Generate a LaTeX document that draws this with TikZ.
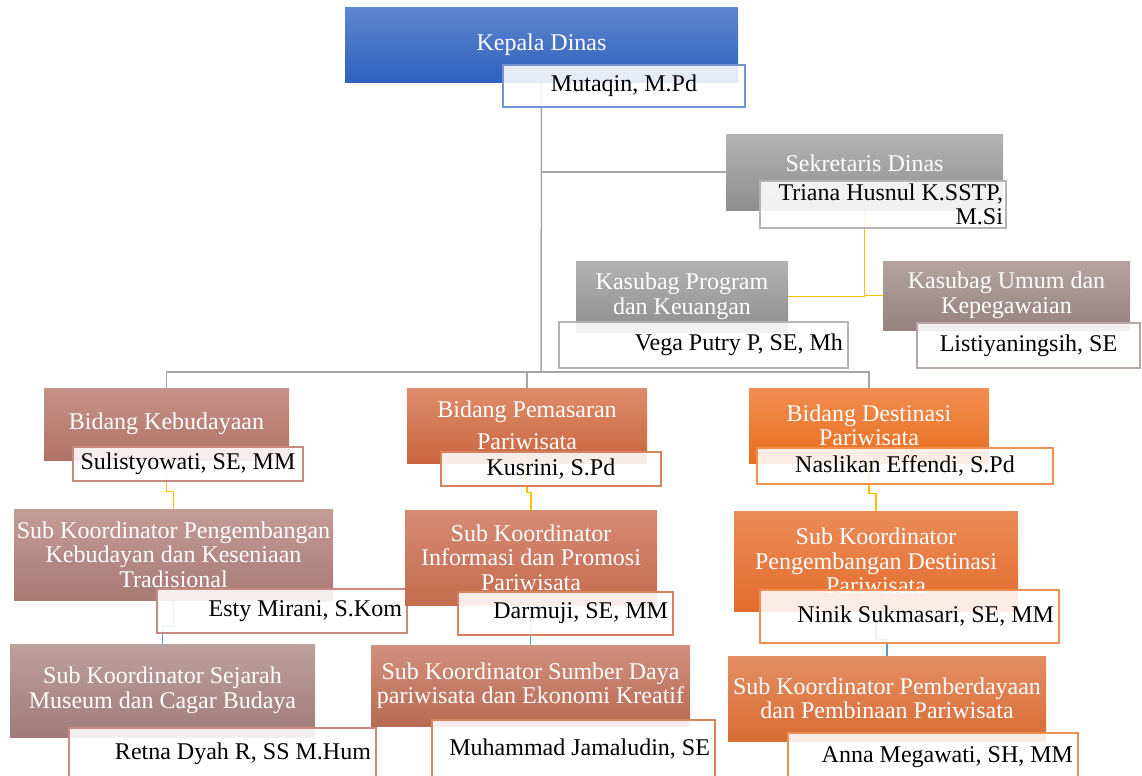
\documentclass[tikz,border=0pt]{standalone}
\usepackage{fontspec}
\setmainfont{Liberation Serif}
\usepackage{tikz}
\usetikzlibrary{backgrounds}
\definecolor{bluT}{HTML}{5F86D0}\definecolor{bluB}{HTML}{2F60BC}\definecolor{bluL}{HTML}{7393D3}
\definecolor{gryT}{HTML}{B3B3B3}\definecolor{gryB}{HTML}{8E8E8E}\definecolor{gryL}{HTML}{B4B4B4}
\definecolor{tauT}{HTML}{B4A3A0}\definecolor{tauB}{HTML}{968280}\definecolor{tauL}{HTML}{B8A8A5}
\definecolor{rosT}{HTML}{C69288}\definecolor{rosB}{HTML}{B07268}\definecolor{rosL}{HTML}{C88A80}
\definecolor{rusT}{HTML}{DE8C6C}\definecolor{rusB}{HTML}{C9663F}\definecolor{rusL}{HTML}{D8825E}
\definecolor{orgT}{HTML}{F28E52}\definecolor{orgB}{HTML}{E86E1E}\definecolor{orgL}{HTML}{F09050}
\definecolor{mauT}{HTML}{C39C96}\definecolor{mauB}{HTML}{A87A74}
\definecolor{sejT}{HTML}{BCA09C}\definecolor{sejB}{HTML}{A07C78}
\definecolor{infT}{HTML}{D58A74}\definecolor{infB}{HTML}{C46C4E}
\definecolor{sumT}{HTML}{D2907E}\definecolor{sumB}{HTML}{B86A52}
\definecolor{dstT}{HTML}{EA8C5A}\definecolor{dstB}{HTML}{E26C2C}
\definecolor{pbdT}{HTML}{E48E64}\definecolor{pbdB}{HTML}{D86C34}
\definecolor{lnGry}{HTML}{A6A6A6}\definecolor{lnYel}{HTML}{FFC000}\definecolor{lnBlu}{HTML}{5B9BD5}

\begin{document}
\begin{tikzpicture}[x=0.5pt,y=-0.5pt,
  box/.style={rectangle,inner sep=1pt,align=center,text=white,
     font=\fontsize{12}{12.25}\selectfont},
  nm/.style={rectangle,draw,line width=0.75pt,fill=white,fill opacity=0.88,
     text opacity=1,draw opacity=1,inner sep=2.5pt,align=center,
     font=\fontsize{12}{12.25}\selectfont},
  nmr/.style={nm,align=flush right},
  gry/.style={draw=lnGry,line width=0.75pt},
  yel/.style={draw=lnYel,line width=0.75pt},
  blu/.style={draw=lnBlu,line width=0.6pt}]
\useasboundingbox (0,0) rectangle (1142,776);
\node[box,top color=bluT,bottom color=bluB,minimum width=196.5pt,minimum height=37.5pt] (kep) at (541.5,44.5) {Kepala Dinas};
\node[nm,draw=bluL,minimum width=121pt,minimum height=21pt] (kepN) at (624,86) {Mutaqin, M.Pd};
\node[box,top color=gryT,bottom color=gryB,minimum width=138.5pt,minimum height=38pt,text depth=9pt] (sek) at (864.5,172) {Sekretaris Dinas};
\node[nmr,draw=gryL,text width=120pt,minimum height=21.5pt,inner sep=1.5pt] (sekN) at (883,204.5) {Triana Husnul K.SSTP,\\M.Si};
\node[box,top color=gryT,bottom color=gryB,minimum width=106pt,minimum height=35.5pt] (kp) at (682,296.5) {Kasubag Program\\dan Keuangan};
\node[nmr,draw=gryL,text width=139.5pt,minimum height=23pt] (kpN) at (703.5,345) {Vega Putry P, SE, Mh};
\node[box,top color=tauT,bottom color=tauB,minimum width=123.5pt,minimum height=34.5pt] (ku) at (1006.5,295.5) {Kasubag Umum dan\\Kepegawaian};
\node[nm,draw=tauL,minimum width=111.5pt,minimum height=22.5pt] (kuN) at (1028.5,345.5) {Listiyaningsih, SE};
\node[box,top color=rosT,bottom color=rosB,minimum width=122.5pt,minimum height=36pt] (keb) at (166.5,424) {Bidang Kebudayaan};
\node[nm,draw=rosL,minimum width=115pt,minimum height=17pt,inner sep=1pt] (kebN) at (188,464) {Sulistyowati, SE, MM};
\node[box,top color=rusT,bottom color=rusB,minimum width=120pt,minimum height=37.5pt] (pem) at (527,425.5) {Bidang Pemasaran\\[3.5pt]Pariwisata};
\node[nm,draw=rusL,minimum width=110pt,minimum height=17pt,inner sep=1pt] (pemN) at (551,469) {Kusrini, S.Pd};
\node[box,top color=orgT,bottom color=orgB,minimum width=120pt,minimum height=37.5pt] (des) at (869,425.5) {Bidang Destinasi\\Pariwisata};
\node[nm,draw=orgL,minimum width=148pt,minimum height=18pt,inner sep=1pt] (desN) at (905,466) {Naslikan Effendi, S.Pd};
\node[box,top color=mauT,bottom color=mauB,minimum width=159.5pt,minimum height=45.5pt] (skeb) at (173.5,554.5) {Sub Koordinator Pengembangan\\Kebudayan dan Keseniaan\\Tradisional};
\node[nmr,draw=rosL,text width=120pt,minimum height=22pt] (skebN) at (282,611) {Esty Mirani, S.Kom};
\node[box,top color=infT,bottom color=infB,minimum width=126pt,minimum height=47.5pt] (sinf) at (531,557.5) {Sub Koordinator\\Informasi dan Promosi\\Pariwisata};
\node[nmr,draw=rusL,text width=102.5pt,minimum height=21.5pt] (sinfN) at (565.5,613.5) {Darmuji, SE, MM};
\node[box,top color=dstT,bottom color=dstB,minimum width=142pt,minimum height=50pt] (sdes) at (876,561) {Sub Koordinator\\Pengembangan Destinasi\\Pariwisata};
\node[nmr,draw=orgL,text width=144.5pt,minimum height=26.5pt] (sdesN) at (909.5,616.5) {Ninik Sukmasari, SE, MM};
\node[box,top color=sejT,bottom color=sejB,minimum width=152.5pt,minimum height=46.5pt] (ssej) at (162.5,690.5) {Sub Koordinator Sejarah\\Museum dan Cagar Budaya};
\node[nmr,draw=rosL,text width=148.5pt,minimum height=26pt] (ssejN) at (222.5,754) {Retna Dyah R, SS M.Hum};
\node[box,top color=sumT,bottom color=sumB,minimum width=159.5pt,minimum height=40.5pt] (ssum) at (530.5,685.5) {Sub Koordinator Sumber Daya\\pariwisata dan Ekonomi Kreatif};
\node[nmr,draw=rusL,text width=136.5pt,minimum height=29pt] (ssumN) at (573.5,749) {Muhammad Jamaludin, SE};
\node[box,top color=pbdT,bottom color=pbdB,minimum width=159pt,minimum height=42.5pt] (spem) at (887,698.5) {Sub Koordinator Pemberdayaan\\dan Pembinaan Pariwisata};
\node[nmr,draw=orgL,text width=140pt,minimum height=24pt] (spemN) at (933,757) {Anna Megawati, SH, MM};
\begin{scope}[on background layer]
\coordinate (bus) at (541,372);
\draw[gry] (kep.south) -- (bus);
\draw[gry] (kep.south) |- (sek.west);
\draw[gry] (keb.north) |- (bus) -| (des.north);
\draw[gry] (pem.north) -- (pem.north |- bus);
\draw[yel] (sek.south) |- (kp.east);
\draw[yel] (sek.south) |- (ku.west);
\draw[yel] (keb.south) |- ([yshift=8.5pt]skeb.north) -- (skeb.north);
\draw[yel] (pem.south) |- ([yshift=8.5pt]sinf.north) -- (sinf.north);
\draw[yel] (des.south) |- ([yshift=8.5pt]sdes.north) -- (sdes.north);
\draw[blu] (skeb.south) |- ([yshift=8.5pt]ssej.north) -- (ssej.north);
\draw[blu] (sinf.south) |- ([yshift=8.5pt]ssum.north) -- (ssum.north);
\draw[blu] (sdes.south) |- ([yshift=8pt]spem.north) -- (spem.north);
\end{scope}
\end{tikzpicture}
\end{document}
